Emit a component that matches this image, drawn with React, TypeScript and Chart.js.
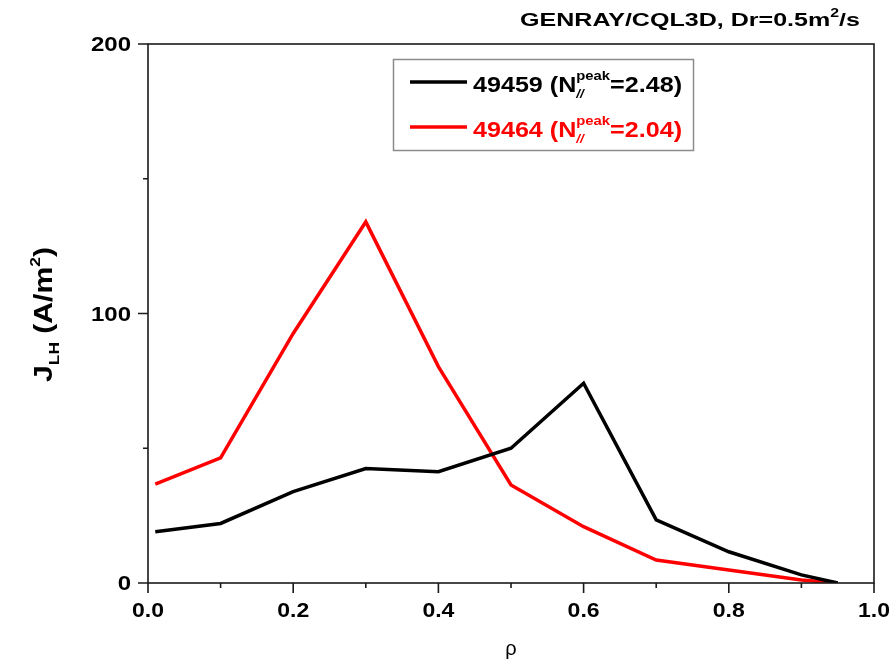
import React, { useEffect, useRef } from "react";
import { Chart, registerables } from "chart.js";

Chart.register(...registerables);

// Normalised radius and LH-driven current density for the two shots
const rho = [0.01, 0.1, 0.2, 0.3, 0.4, 0.5, 0.6, 0.7, 0.8, 0.9, 0.95];
const jShot49459 = [19, 22.1, 33.9, 42.5, 41.3, 50, 74.1, 23.4, 11.6, 3, 0];
const jShot49464 = [36.7, 46.4, 92.6, 134, 80.3, 36.4, 20.9, 8.5, 4.8, 1.1, 0];

const xMajorTicks = [0, 0.2, 0.4, 0.6, 0.8, 1.0];
const xMinorTicks = [0.1, 0.3, 0.5, 0.7, 0.9];
const yMajorTicks = [0, 100, 200];
const yMinorTicks = [50, 150];

const FONT = '"Liberation Sans", Arial, Helvetica, sans-serif';

type Seg = { t: string; size: number; dy?: number; italic?: boolean; overlay?: boolean; weight?: string };

function segFont(s: Seg) {
  return `${s.italic ? "italic " : ""}${s.weight ?? "bold"} ${s.size}px ${FONT}`;
}

function richWidth(ctx: CanvasRenderingContext2D, segs: Seg[]) {
  let x = 0;
  let start = 0;
  for (const s of segs) {
    ctx.font = segFont(s);
    const w = ctx.measureText(s.t).width;
    if (s.overlay) {
      x = Math.max(x, start + w);
    } else {
      start = x;
      x += w;
    }
  }
  return x;
}

function drawRich(ctx: CanvasRenderingContext2D, segs: Seg[], color: string) {
  let x = 0;
  let start = 0;
  ctx.fillStyle = color;
  ctx.textAlign = "left";
  ctx.textBaseline = "alphabetic";
  for (const s of segs) {
    ctx.font = segFont(s);
    const w = ctx.measureText(s.t).width;
    if (s.overlay) {
      ctx.fillText(s.t, start, s.dy ?? 0);
      x = Math.max(x, start + w);
    } else {
      start = x;
      ctx.fillText(s.t, x, s.dy ?? 0);
      x += w;
    }
  }
}

// Draws rich text starting at (x, y) on the baseline, stretched to the given width
function placeRich(
  ctx: CanvasRenderingContext2D,
  segs: Seg[],
  color: string,
  x: number,
  y: number,
  width: number,
  rotate = false
) {
  const natural = richWidth(ctx, segs);
  const sx = width / natural;
  ctx.save();
  ctx.translate(x, y);
  if (rotate) ctx.rotate(-Math.PI / 2);
  ctx.scale(sx, 1);
  drawRich(ctx, segs, color);
  ctx.restore();
}

function stretchedLabel(
  ctx: CanvasRenderingContext2D,
  text: string,
  font: string,
  sx: number,
  x: number,
  y: number,
  align: "center" | "right"
) {
  ctx.save();
  ctx.font = font;
  const w = ctx.measureText(text).width * sx;
  const x0 = align === "center" ? x - w / 2 : x - w;
  ctx.translate(x0, y);
  ctx.scale(sx, 1);
  ctx.textAlign = "left";
  ctx.textBaseline = "alphabetic";
  ctx.fillStyle = "#000";
  ctx.fillText(text, 0, 0);
  ctx.restore();
}

const legendRows = [
  { label: "49459", value: "2.48", color: "#000000" },
  { label: "49464", value: "2.04", color: "#ff0000" },
];

const framePlugin = {
  id: "originFrame",
  afterDatasetsDraw(chart: any) {
    const ctx: CanvasRenderingContext2D = chart.ctx;
    const { left, right, top, bottom } = chart.chartArea;
    const xs = chart.scales.x;
    const ys = chart.scales.y;

    ctx.save();
    // axis box
    ctx.strokeStyle = "#1a1a1a";
    ctx.lineWidth = 1.6;
    ctx.strokeRect(left, top, right - left, bottom - top);

    // ticks (outward)
    ctx.beginPath();
    for (const v of xMajorTicks) {
      const px = xs.getPixelForValue(v);
      ctx.moveTo(px, bottom);
      ctx.lineTo(px, bottom + 10);
    }
    for (const v of xMinorTicks) {
      const px = xs.getPixelForValue(v);
      ctx.moveTo(px, bottom);
      ctx.lineTo(px, bottom + 5);
    }
    for (const v of yMajorTicks) {
      const py = ys.getPixelForValue(v);
      ctx.moveTo(left, py);
      ctx.lineTo(left - 10, py);
    }
    for (const v of yMinorTicks) {
      const py = ys.getPixelForValue(v);
      ctx.moveTo(left, py);
      ctx.lineTo(left - 5, py);
    }
    ctx.stroke();

    // tick labels
    for (const v of xMajorTicks) {
      stretchedLabel(ctx, v.toFixed(1), `bold 20px ${FONT}`, 1.15, xs.getPixelForValue(v), bottom + 34, "center");
    }
    for (const v of yMajorTicks) {
      stretchedLabel(ctx, String(v), `bold 20px ${FONT}`, 1.2, left - 17, ys.getPixelForValue(v) + 7, "right");
    }

    // x-axis title
    ctx.font = `20px ${FONT}`;
    ctx.fillStyle = "#000";
    ctx.textAlign = "center";
    ctx.textBaseline = "alphabetic";
    ctx.fillText("ρ", (left + right) / 2, bottom + 72);

    // y-axis title: J_LH (A/m^2)
    placeRich(
      ctx,
      [
        { t: "J", size: 26 },
        { t: "LH", size: 15, dy: 7 },
        { t: " (A/m", size: 26 },
        { t: "2", size: 15, dy: -12 },
        { t: ")", size: 26 },
      ],
      "#000",
      52,
      382,
      135,
      true
    );

    // header
    placeRich(
      ctx,
      [
        { t: "GENRAY/CQL3D, Dr=0.5m", size: 19 },
        { t: "2", size: 12, dy: -9.5 },
        { t: "/s", size: 19 },
      ],
      "#000",
      520,
      26,
      340
    );

    // legend box
    ctx.strokeStyle = "#8c8c8c";
    ctx.lineWidth = 1.5;
    ctx.strokeRect(393.5, 59.5, 300, 91);

    legendRows.forEach((row, i) => {
      const lineY = 82 + i * 45;
      ctx.strokeStyle = row.color;
      ctx.lineWidth = 3.5;
      ctx.beginPath();
      ctx.moveTo(410, lineY);
      ctx.lineTo(467, lineY);
      ctx.stroke();
      placeRich(
        ctx,
        [
          { t: `${row.label} (N`, size: 22 },
          { t: "peak", size: 13, dy: -12 },
          { t: "//", size: 12, dy: 6, italic: true, overlay: true },
          { t: `=${row.value})`, size: 22 },
        ],
        row.color,
        473,
        lineY + 10,
        209
      );
    });
    ctx.restore();
  },
};

export default function App() {
  const canvasRef = useRef<HTMLCanvasElement | null>(null);

  useEffect(() => {
    const canvas = canvasRef.current;
    if (!canvas) return;
    const toPoints = (ys: number[]) => rho.map((x, i) => ({ x, y: ys[i] }));
    const chart = new Chart(canvas, {
      type: "line",
      data: {
        datasets: [
          {
            label: "49459",
            data: toPoints(jShot49459),
            borderColor: "#000000",
            borderWidth: 3.5,
            pointRadius: 0,
            tension: 0,
            fill: false,
          },
          {
            label: "49464",
            data: toPoints(jShot49464),
            borderColor: "#ff0000",
            borderWidth: 3.5,
            pointRadius: 0,
            tension: 0,
            fill: false,
          },
        ],
      },
      options: {
        responsive: false,
        animation: false,
        devicePixelRatio: 1,
        layout: { padding: { top: 44, right: 16, left: 0, bottom: 0 } },
        plugins: {
          legend: { display: false },
          tooltip: { enabled: false },
          title: { display: false },
        },
        scales: {
          x: {
            type: "linear",
            min: 0,
            max: 1,
            grid: { display: false },
            border: { display: false },
            ticks: { display: false },
            afterFit: (s: any) => {
              s.height = 80;
            },
          },
          y: {
            type: "linear",
            min: 0,
            max: 200,
            grid: { display: false },
            border: { display: false },
            ticks: { display: false },
            afterFit: (s: any) => {
              s.width = 148;
            },
          },
        },
      },
      plugins: [framePlugin],
    });
    return () => chart.destroy();
  }, []);

  return (
    <div style={{ position: "absolute", left: 0, top: 0, width: 890, height: 663, background: "#fff" }}>
      <canvas ref={canvasRef} width={890} height={663} style={{ display: "block" }} />
    </div>
  );
}
